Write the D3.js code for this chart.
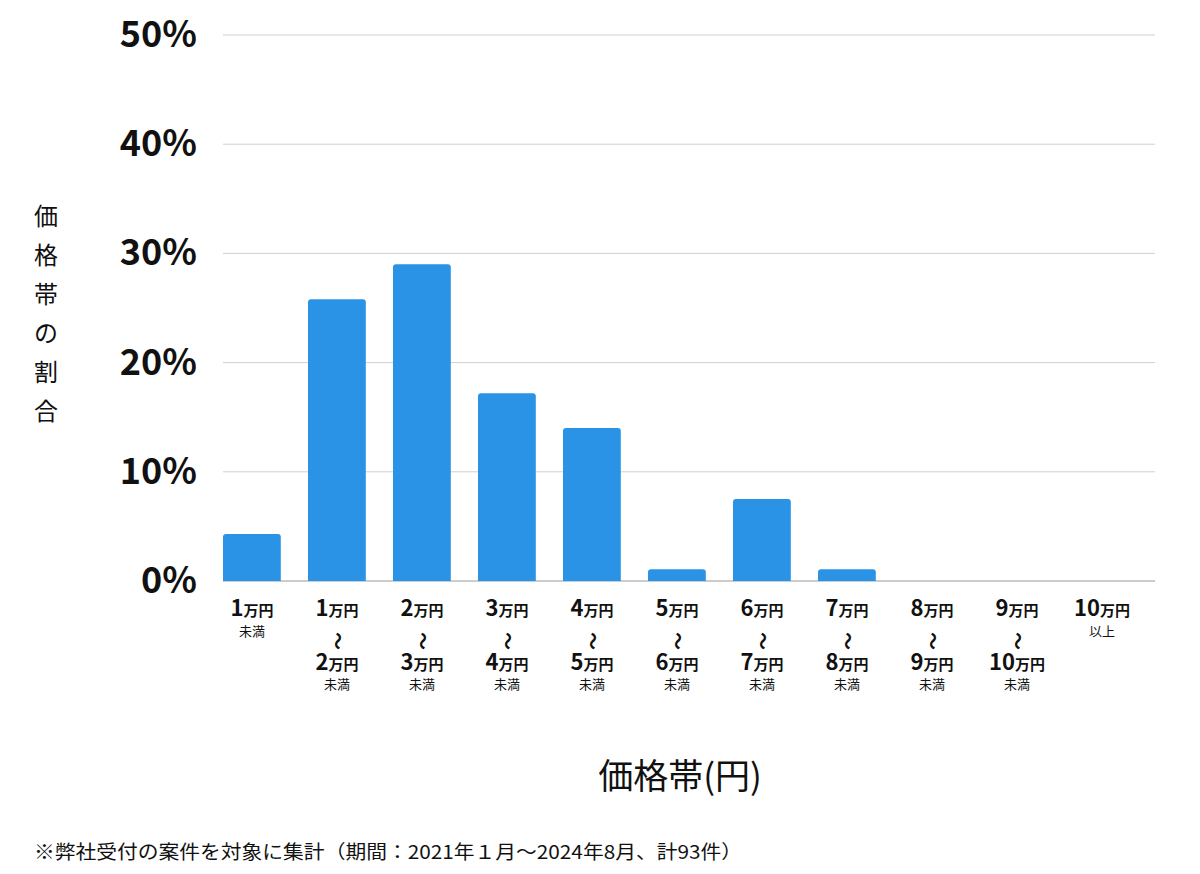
<!DOCTYPE html>
<html><head><meta charset="utf-8">
<script src="https://cdn.jsdelivr.net/npm/d3@7"></script>
<style>body{margin:0;background:#fff}text{font-family:"Noto Sans CJK JP","Noto Sans",sans-serif}</style>
</head><body><svg id="c" width="1200" height="874"></svg>
<script>
const lowNums = ["1","1","2","3","4","5","6","7","8","9","10"];
const highNums = [null,"2","3","4","5","6","7","8","9","10",null];
const suffixes = ["未満","未満","未満","未満","未満","未満","未満","未満","未満","未満","以上"];
const values = [4.3,25.8,29.0,17.2,14.0,1.08,7.5,1.08,0,0,0];
const yTicks = [0,10,20,30,40,50];

const svg = d3.select("#c");
const x = d3.scaleBand().domain(d3.range(values.length)).range([223,1158]).paddingInner(0.32).paddingOuter(0.16).align(0);
const y = d3.scaleLinear().domain([0,50]).range([581,35]);

yTicks.forEach(t=>{
  svg.append("line").attr("x1",223).attr("x2",1155).attr("y1",y(t)).attr("y2",y(t))
    .attr("stroke",t===0?"#999":"#d0d0d0").attr("stroke-width",1);
  svg.append("text").attr("x",197).attr("y",y(t)+12).attr("text-anchor","end")
    .attr("font-size",36).attr("font-weight","bold").attr("fill","#111").text(t+"%");
});

const r=3;
values.forEach((v,i)=>{
  if(v<=0) return;
  const x0=x(i), w=x.bandwidth(), y0=y(v), y1=y(0);
  svg.append("path").attr("fill","#2a93e6")
    .attr("d",`M${x0},${y1}V${y0+r}Q${x0},${y0} ${x0+r},${y0}H${x0+w-r}Q${x0+w},${y0} ${x0+w},${y0+r}V${y1}Z`);
});

function numLabel(g, cx, yy, n){
  const t=g.append("text").attr("x",cx).attr("y",yy).attr("text-anchor","middle").attr("font-weight","bold").attr("fill","#111");
  t.append("tspan").attr("font-size",22).text(n);
  t.append("tspan").attr("font-size",15).text("万円");
}
lowNums.forEach((n,i)=>{
  const cx=x(i)+x.bandwidth()/2;
  const g=svg.append("g");
  numLabel(g,cx,616,n);
  if(highNums[i]){
    g.append("text").attr("transform",`translate(${cx},641) rotate(90)`).attr("text-anchor","middle").attr("dy","0.35em")
      .attr("font-size",18).attr("font-weight","bold").attr("fill","#111").text("〜");
    numLabel(g,cx,670,highNums[i]);
    g.append("text").attr("x",cx).attr("y",689).attr("text-anchor","middle").attr("font-size",13).attr("fill","#111").text(suffixes[i]);
  } else {
    g.append("text").attr("x",cx).attr("y",636).attr("text-anchor","middle").attr("font-size",13).attr("fill","#111").text(suffixes[i]);
  }
});

"価格帯の割合".split("").forEach((ch,i)=>{
  svg.append("text").attr("x",46).attr("y",225+i*39).attr("text-anchor","middle").attr("font-size",24).attr("fill","#111").text(ch);
});
svg.append("text").attr("x",680).attr("y",789).attr("text-anchor","middle").attr("font-size",35).attr("fill","#111").text("価格帯(円)");
svg.append("text").attr("x",34).attr("y",859).attr("font-size",19).attr("textLength",708).attr("lengthAdjust","spacingAndGlyphs").attr("fill","#111").text("※弊社受付の案件を対象に集計（期間：2021年１月〜2024年8月、計93件）");
</script></body></html>
